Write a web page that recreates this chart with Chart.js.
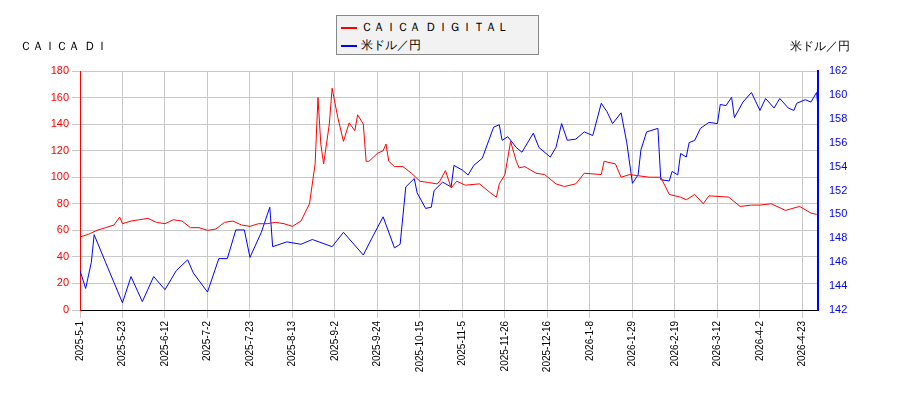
<!DOCTYPE html>
<html><head><meta charset="utf-8">
<script src="https://cdn.jsdelivr.net/npm/chart.js@4"></script>
<style>
body{margin:0;background:#fff;font-family:"DejaVu Sans",sans-serif}
#wrap{position:relative;width:900px;height:400px}
#legend{position:absolute;left:336px;top:15px;width:203px;height:40px;border:1px solid #888;background:#f2f2f2;font-size:12px;box-sizing:border-box;padding:2px 0 0 4px}
#legend div{height:18px;line-height:18px}
#legend span{display:inline-block;width:16px;height:0;border-top:2px solid;vertical-align:middle;margin-right:4px}
.lab{position:absolute;top:38px;font-size:12px}
</style></head><body>
<div id="wrap"><canvas id="c" width="900" height="400"></canvas>
<div id="legend"><div><span style="border-color:red"></span>ＣＡＩＣＡ ＤＩＧＩＴＡＬ</div><div><span style="border-color:blue"></span>米ドル／円</div></div>
<div class="lab" style="left:20px">ＣＡＩＣＡ ＤＩ</div>
<div class="lab" style="left:790px">米ドル／円</div>
</div>
<script>
const tickLabels = ['2025-5-1','2025-5-23','2025-6-12','2025-7-2','2025-7-23','2025-8-13','2025-9-2','2025-9-24','2025-10-15','2025-11-5','2025-11-26','2025-12-16','2026-1-8','2026-1-29','2026-2-19','2026-3-12','2026-4-2','2026-4-23'];
const redDays = [0,3,6,9,12,14,15,18,21,24,27,30,33,36,39,42,45,48,51,54,57,60,63,66,69,72,75,78,81,83,84,85,86,88,89,91,93,95,97,98,100,101,102,105,107,108,109,111,114,117,120,123,126,127,129,131,133,136,141,145,147,148,150,152,154,155,157,161,164,168,171,175,178,184,185,189,191,194,201,205,208,212,214,217,220,222,229,233,237,240,244,249,254,258,260];
const redVals = [55,57,60,62,64,70,65,67,68,69,66,65,68,67,62,62,60,61,66,67,64,63,65,65,66,65,63,67,80,110,160,125,110,140,167,145,127,141,135,147,140,112,112,118,120,125,112,108,108,103,97,96,95,97,105,92,97,94,95,88,85,95,102,127,112,107,108,103,102,95,93,95,103,102,112,110,100,102,100,100,87,85,83,87,80,86,85,78,79,79,80,75,78,73,72];
const usdDays = [0,2,4,5,9,12,15,18,22,26,30,34,38,40,45,49,52,55,58,60,64,67,68,73,78,82,89,93,100,103,107,111,113,115,118,119,122,124,125,128,131,132,135,137,139,142,146,148,149,151,154,156,160,162,166,168,170,172,175,178,181,184,186,188,191,193,195,197,198,200,204,205,208,209,211,212,214,215,217,219,222,225,226,228,230,231,234,237,240,242,245,247,250,252,253,256,258,260,261];
const usdVals = [145.3,143.8,146,148.3,146,144.3,142.6,144.8,142.7,144.8,143.7,145.3,146.2,145.1,143.5,146.3,146.3,148.7,148.7,146.4,148.5,150.6,147.3,147.7,147.5,147.9,147.3,148.5,146.6,148,149.8,147.2,147.5,152.3,153,151.8,150.5,150.6,152,152.7,152.3,154.1,153.7,153.3,154.1,154.7,157.3,157.5,156.2,156.5,155.6,155.2,156.8,155.6,154.8,155.6,157.6,156.2,156.3,156.9,156.6,159.3,158.6,157.6,158.5,156,152.6,153.3,155.4,156.9,157.2,152.9,152.8,153.6,153.3,155.1,154.8,156,156.2,157.2,157.7,157.6,159.2,159.1,159.8,158.1,159.4,160.2,158.7,159.7,158.9,159.7,158.9,158.7,159.3,159.6,159.4,160.2,157.6];

const grid = {color:'#c8c8c8'};
new Chart(document.getElementById('c'), {
  type: 'line',
  data: {
    datasets: [
      {data: redDays.map((d,i)=>({x:d,y:redVals[i]})), borderColor:'red', borderWidth:1, pointRadius:0, yAxisID:'y'},
      {data: usdDays.map((d,i)=>({x:d,y:usdVals[i]})), borderColor:'blue', borderWidth:1, pointRadius:0, yAxisID:'y1'}
    ]
  },
  options: {
    responsive:false, animation:false,
    layout:{padding:{top:71,right:0,bottom:0,left:0}},
    plugins:{legend:{display:false}, tooltip:{enabled:false}},
    scales:{
      x:{type:'linear', min:0, max:260.5, grid:grid,
         border:{color:'#000'},
         afterBuildTicks:a=>{a.ticks=tickLabels.map((_,i)=>({value:i*15}));},
         afterFit:a=>{a.height=90;},
         ticks:{color:'#000',font:{size:10},maxRotation:90,minRotation:90,autoSkip:false,callback:(v)=>tickLabels[v/15]}},
      y:{position:'left', min:0, max:180, grid:grid, border:{color:'red'},
         afterFit:a=>{a.width=80;},
         ticks:{stepSize:20,color:'red',font:{size:11}}},
      y1:{position:'right', min:142, max:162, grid:{display:false}, border:{color:'blue',width:2},
         afterFit:a=>{a.width=82;},
         ticks:{stepSize:2,color:'blue',font:{size:11}}}
    }
  }
});
</script></body></html>
